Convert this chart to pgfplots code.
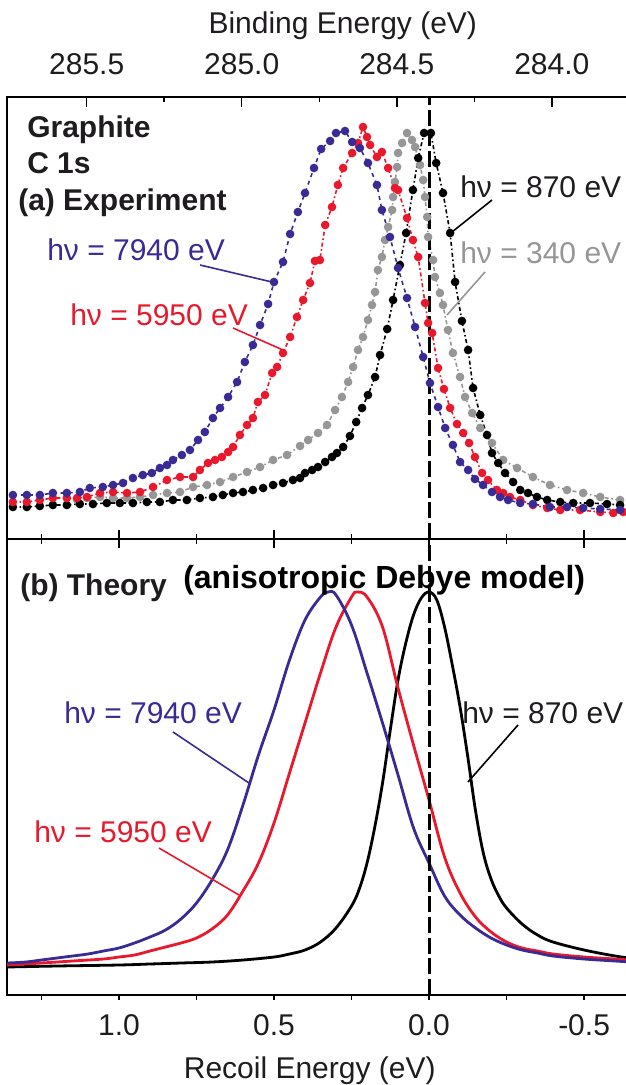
\documentclass[border=0pt]{standalone}
\usepackage{pgfplots}
\pgfplotsset{compat=1.18}
\usepackage{fontspec}
\setmainfont{Liberation Sans}
\definecolor{cblue}{RGB}{58,42,148}
\definecolor{cred}{RGB}{232,25,45}
\definecolor{cgray}{RGB}{150,150,150}
\definecolor{ctext}{RGB}{30,28,30}
\newcommand{\fs}{\fontsize{22.5}{26}\selectfont}

\begin{document}
\begin{tikzpicture}
\pgfplotsset{
  common/.style={
    scale only axis, width=467.25pt,
    xmin=-0.648, xmax=1.361, x dir=reverse,
    ytick=\empty,
    axis line style={line width=1.1pt, black},
    major tick style={line width=1.1pt, black},
    minor tick style={line width=1.1pt, black},
    ticklabel style={font=\fs, text=ctext},
    label style={font=\fs, text=ctext},
  },
  expt/.style={line width=1.2pt, mark=*, mark size=2.6pt, mark options={solid}},
  theo/.style={line width=2.1pt, smooth, tension=0.6, mark=none},
}
% ---------------- top panel (experiment) ----------------
\begin{axis}[common, at={(5.25pt,-404.25pt)}, anchor=south west, height=331.5pt,
  ymin=0, ymax=442,
  xtick={-0.5,0,0.5,1}, minor xtick={-0.25,0.25,0.75,1.25}, xticklabels={},
  xtick pos=left, tick align=center, major tick length=13.5pt, minor tick length=7pt]
% 340 eV (gray)
\addplot[expt, cgray, dashdotted, mark size=2.6pt] coordinates {
(1.135,39) (1.103,41) (1.061,42) (1.019,41) (0.974,41) (0.932,42) (0.890,44) (0.845,46)
(0.803,47) (0.761,52) (0.716,54) (0.674,57) (0.632,62) (0.587,67) (0.545,72) (0.503,79)
(0.458,84) (0.416,93) (0.390,99) (0.358,106) (0.329,114) (0.303,129) (0.281,142) (0.261,157)
(0.245,172) (0.229,189) (0.213,202) (0.197,219) (0.184,234) (0.174,247) (0.165,269) (0.152,282)
(0.142,299) (0.132,312) (0.119,329) (0.116,342) (0.110,357) (0.103,372) (0.100,386) (0.087,396)
(0.071,406) (0.055,399) (0.045,392) (0.029,374) (0.019,359) (0.013,342) (0.006,322) (0.003,302)
(-0.013,279) (-0.019,262) (-0.035,246) (-0.045,234) (-0.061,209) (-0.077,186) (-0.100,162)
(-0.116,142) (-0.139,126) (-0.165,111) (-0.203,96) (-0.239,79) (-0.284,71) (-0.335,62)
(-0.390,54) (-0.445,49) (-0.497,46) (-0.552,42) (-0.616,39)};
% 870 eV (black)
\addplot[expt, black, dashdotted] coordinates {
(1.342,32) (1.297,32) (1.255,33) (1.213,34) (1.168,34) (1.126,35) (1.084,35) (1.039,36)
(0.997,36) (0.955,36) (0.910,37) (0.868,37) (0.826,39) (0.781,39) (0.739,41) (0.697,42)
(0.665,44) (0.632,46) (0.600,47) (0.568,49) (0.535,51) (0.503,54) (0.471,56) (0.439,59)
(0.416,61) (0.400,66) (0.377,69) (0.358,72) (0.335,77) (0.313,82) (0.297,86) (0.277,92)
(0.255,103) (0.235,117) (0.216,131) (0.197,144) (0.174,162) (0.158,184) (0.135,210) (0.116,239)
(0.094,274) (0.074,306) (0.052,349) (0.035,381) (0.016,406) (-0.006,406) (-0.023,376)
(-0.045,346) (-0.068,306) (-0.084,257) (-0.106,218) (-0.126,189) (-0.142,151) (-0.165,124)
(-0.187,104) (-0.203,86) (-0.223,76) (-0.245,66) (-0.271,57) (-0.294,49) (-0.319,46)
(-0.348,42) (-0.381,39) (-0.423,37) (-0.465,36) (-0.519,36) (-0.574,35) (-0.616,34)};
% 5950 eV (red)
\addplot[expt, cred, dashdotted] coordinates {
(1.342,37) (1.297,37) (1.255,39) (1.213,41) (1.168,41) (1.135,41) (1.103,42) (1.061,46)
(1.019,47) (0.974,46) (0.932,47) (0.890,52) (0.845,59) (0.803,62) (0.761,62) (0.739,69)
(0.713,76) (0.690,79) (0.668,82) (0.648,87) (0.632,92) (0.610,104) (0.587,114) (0.568,121)
(0.552,137) (0.529,144) (0.506,166) (0.490,172) (0.471,186) (0.448,202) (0.426,222) (0.406,239)
(0.384,256) (0.368,278) (0.352,279) (0.335,314) (0.313,332) (0.294,354) (0.277,371) (0.248,386)
(0.229,396) (0.213,412) (0.200,402) (0.190,394) (0.168,382) (0.152,387) (0.132,371) (0.110,351)
(0.100,349) (0.071,321) (0.052,299) (0.035,282) (0.013,236) (0.003,216) (-0.010,206)
(-0.029,171) (-0.048,150) (-0.068,131) (-0.090,115) (-0.110,106) (-0.129,96) (-0.148,82)
(-0.171,66) (-0.190,59) (-0.219,49) (-0.239,46) (-0.261,42) (-0.294,39) (-0.335,34)
(-0.381,31) (-0.423,29) (-0.487,29) (-0.552,27) (-0.594,26) (-0.626,27)};
% 7940 eV (blue)
\addplot[expt, cblue, dashed] coordinates {
(1.342,44) (1.297,44) (1.255,44) (1.213,46) (1.168,46) (1.126,47) (1.094,51) (1.052,52)
(1.019,54) (0.987,56) (0.955,61) (0.923,64) (0.894,66) (0.868,71) (0.845,74) (0.826,79)
(0.797,84) (0.771,89) (0.745,99) (0.723,107) (0.697,121) (0.674,131) (0.648,142) (0.619,157)
(0.594,177) (0.568,194) (0.545,214) (0.519,235) (0.500,257) (0.471,277) (0.448,305) (0.423,327)
(0.400,346) (0.371,371) (0.348,390) (0.319,398) (0.300,406) (0.271,408) (0.248,397) (0.223,391)
(0.197,376) (0.168,354) (0.152,329) (0.126,302) (0.100,271) (0.071,241) (0.045,212) (0.019,182)
(-0.003,156) (-0.029,132) (-0.052,111) (-0.077,94) (-0.100,77) (-0.126,69) (-0.148,60)
(-0.174,54) (-0.203,47) (-0.229,42) (-0.255,39) (-0.294,36) (-0.335,35) (-0.390,32)
(-0.445,32) (-0.497,31) (-0.552,30) (-0.616,29)};
\draw[black, line width=2.2pt, dash pattern=on 12pt off 3.5pt] (axis cs:0,0) -- (axis cs:0,442);
\end{axis}
% top axis: binding energy
\begin{axis}[common, at={(5.25pt,-404.25pt)}, anchor=south west, height=331.5pt,
  ymin=0, ymax=442, hide y axis,
  xtick={1.104,0.604,0.104,-0.396}, xticklabels={285.5,285.0,284.5,284.0},
  minor xtick={0.854,0.354,-0.146},
  xtick pos=right, xticklabel pos=right, tick align=inside,
  major tick length=7.5pt, minor tick length=3.75pt,
  xticklabel style={anchor=base, yshift=17.25pt},
  xlabel={Binding Energy (eV)},
  xlabel style={at={(axis description cs:0.539,1)}, anchor=base, yshift=48pt}]
\end{axis}
% ---------------- bottom panel (theory) ----------------
\begin{axis}[common, at={(5.25pt,-746.25pt)}, anchor=south west, height=342pt,
  ymin=0, ymax=456,
  xtick={-0.5,0,0.5,1}, xticklabels={-0.5,0.0,0.5,1.0},
  minor xtick={-0.25,0.25,0.75,1.25},
  xtick pos=left, tick align=outside, major tick length=3.75pt, minor tick length=3.75pt,
  xticklabel style={anchor=base, yshift=-26.25pt},
  xlabel={Recoil Energy (eV)},
  xlabel style={at={(axis description cs:0.486,0)}, anchor=base, yshift=-62.25pt}]
\addplot[theo, black] coordinates {
(1.361,28) (1.2,29) (1.0,30) (0.9,31) (0.8,32) (0.7,33) (0.6,35) (0.5,38) (0.45,41)
(0.40,45) (0.35,53) (0.30,67) (0.25,89) (0.225,106) (0.20,132) (0.175,168) (0.15,212)
(0.125,265) (0.10,315) (0.075,352) (0.05,380) (0.025,397) (0.0,403) (-0.025,395)
(-0.05,368) (-0.075,330) (-0.10,288) (-0.125,238) (-0.15,184) (-0.175,142) (-0.20,116)
(-0.225,99) (-0.25,87) (-0.30,71) (-0.35,60) (-0.40,53) (-0.50,45) (-0.60,39) (-0.648,37)};
\addplot[theo, cred] coordinates {
(1.361,30) (1.25,32) (1.15,34) (1.05,36) (1.0,38) (0.95,40) (0.90,44) (0.85,48) (0.80,52)
(0.75,57) (0.70,66) (0.65,80) (0.60,104) (0.55,132) (0.50,172) (0.45,222) (0.40,272)
(0.35,322) (0.30,368) (0.25,398) (0.232,403) (0.20,398) (0.15,368) (0.10,307) (0.05,250)
(0.0,195) (-0.05,138) (-0.10,102) (-0.15,78) (-0.20,63) (-0.25,53) (-0.30,47) (-0.35,44)
(-0.40,41) (-0.50,38) (-0.60,36) (-0.648,35)};
\addplot[theo, cblue] coordinates {
(1.361,32) (1.30,33) (1.25,35) (1.20,37) (1.15,39) (1.10,41) (1.05,44) (1.00,47) (0.95,52)
(0.90,58) (0.85,65) (0.80,76) (0.75,92) (0.70,115) (0.65,145) (0.60,190) (0.55,240)
(0.50,285) (0.45,335) (0.40,375) (0.35,398) (0.326,403) (0.30,400) (0.25,370) (0.20,322)
(0.15,272) (0.10,220) (0.05,167) (0.0,132) (-0.05,99) (-0.10,80) (-0.15,67) (-0.20,57)
(-0.25,50) (-0.30,45) (-0.35,42) (-0.40,39) (-0.50,36) (-0.60,34) (-0.648,33)};
\draw[black, line width=2.2pt, dash pattern=on 12pt off 3.5pt] (axis cs:0,0) -- (axis cs:0,456);
\end{axis}
% ---------------- annotations ----------------
\begin{scope}[x=0.75pt, y=-0.75pt]
\node[anchor=base west, inner sep=0pt, font=\fs\bfseries, text=ctext] at (27,137) {Graphite};
\node[anchor=base west, inner sep=0pt, font=\fs\bfseries, text=ctext] at (27,173) {C 1s};
\node[anchor=base west, inner sep=0pt, font=\fs\bfseries, text=ctext] at (18,210) {(a) Experiment};
\node[anchor=base west, inner sep=0pt, font=\fs, text=cblue] at (47,260) {hν = 7940 eV};
\node[anchor=base west, inner sep=0pt, font=\fs, text=cred] at (70,325) {hν = 5950 eV};
\node[anchor=base west, inner sep=0pt, font=\fs, text=ctext] at (460,197) {hν = 870 eV};
\node[anchor=base west, inner sep=0pt, font=\fs, text=cgray] at (460,263) {hν = 340 eV};
\draw[cblue, line width=1.2pt] (200,265) -- (272,282);
\draw[cred, line width=1.2pt] (233,328) -- (283,350);
\draw[black, line width=1.2pt] (492,200) -- (452,232);
\draw[cgray, line width=1.2pt] (485,272) -- (447,315);
\node[anchor=base west, inner sep=0pt, font=\fs\bfseries, text=ctext] at (20,595) {(b) Theory};
\node[anchor=base west, inner sep=0pt, font=\fontsize{24}{28}\selectfont\bfseries, text=black] at (183,588) {(anisotropic Debye model)};
\node[anchor=base west, inner sep=0pt, font=\fs, text=cblue] at (64,723) {hν = 7940 eV};
\node[anchor=base west, inner sep=0pt, font=\fs, text=ctext] at (462,723) {hν = 870 eV};
\node[anchor=base west, inner sep=0pt, font=\fs, text=cred] at (34,842) {hν = 5950 eV};
\draw[cblue, line width=1.2pt] (173,732) -- (249,783);
\draw[black, line width=1.2pt] (518,725) -- (468,782);
\draw[cred, line width=1.2pt] (159,848) -- (239,895);
\end{scope}
\pgfresetboundingbox
\path[use as bounding box] (0pt,0pt) rectangle (468.75pt,-813.75pt);
\end{tikzpicture}
\end{document}
